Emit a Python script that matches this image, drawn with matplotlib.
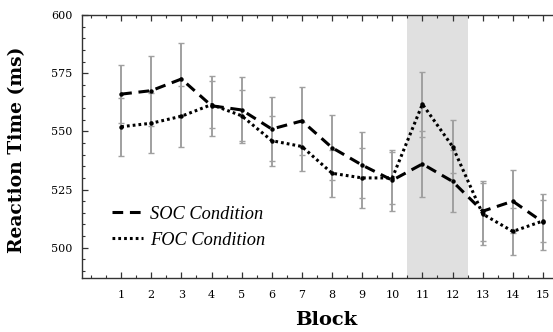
import matplotlib
matplotlib.use("Agg")
import matplotlib.pyplot as plt
from matplotlib.lines import Line2D
from matplotlib.ticker import MultipleLocator, FixedLocator

blocks = list(range(1, 16))
soc_rt = [566.0, 567.5, 572.5, 561.0, 559.2, 551.0, 554.5, 543.0, 535.5, 529.0, 536.0, 528.5, 515.7, 520.0, 511.0]
foc_rt = [552.0, 553.5, 556.5, 561.5, 556.7, 546.0, 543.5, 532.0, 530.0, 530.0, 561.7, 543.5, 514.5, 507.0, 511.5]
soc_err = [12.5, 15.0, 15.3, 13.0, 14.0, 13.7, 14.7, 14.0, 14.3, 13.0, 14.2, 13.3, 13.0, 13.6, 12.0]
foc_err = [12.5, 13.0, 13.2, 10.0, 11.0, 10.7, 10.7, 10.0, 13.0, 11.0, 14.0, 11.5, 13.2, 10.0, 9.0]
shade_span = (10.5, 12.5)
right_ticks = [501.2, 515.3, 529.2, 543.5, 557.8, 571.8, 586.0]
xlabels = [str(b) for b in blocks]

fig = plt.figure(figsize=(5.53, 3.32), dpi=100)
ax = fig.add_axes([82/553, 54/332, 476/553, 263/332])

ax.axvspan(*shade_span, color="#e0e0e0", lw=0, zorder=0)

ecol = "#a0a0a0"
ax.errorbar(blocks, soc_rt, yerr=soc_err, fmt="none", ecolor=ecol, elinewidth=1.4, capsize=2.5, capthick=1.0, zorder=1)
ax.errorbar(blocks, foc_rt, yerr=foc_err, fmt="none", ecolor=ecol, elinewidth=1.4, capsize=2.5, capthick=1.0, zorder=1)

dash = (0, (3.5, 2.2))
dot = (0, (0.9, 1.0))
ax.plot(blocks, soc_rt, color="black", lw=2.2, linestyle=dash, marker="o", ms=2.2, zorder=3)
ax.plot(blocks, foc_rt, color="black", lw=2.2, linestyle=dot, marker="o", ms=2.2, zorder=3)

ax.set_xlim(-0.3, 15.5)
ax.set_ylim(487, 600)

ax.xaxis.set_major_locator(FixedLocator(blocks))
ax.set_xticklabels(xlabels)
ax.xaxis.set_minor_locator(FixedLocator([i * 0.5 for i in range(0, 31)]))
ax.yaxis.set_major_locator(MultipleLocator(25))
ax.yaxis.set_minor_locator(MultipleLocator(5))

for s in ax.spines.values():
    s.set_linewidth(1.0)
    s.set_color("#333333")

ax.tick_params(which="both", direction="in", top=True, right=False, colors="#333333",
               labelcolor="black", labelsize=8)
ax.tick_params(which="major", length=4, width=0.9)
ax.tick_params(which="minor", length=2.5, width=0.8)
ax.tick_params(axis="x", which="major", pad=9)
ax.tick_params(axis="y", which="major", pad=7)
for lbl in ax.get_xticklabels() + ax.get_yticklabels():
    lbl.set_family("DejaVu Serif")

sec = ax.secondary_yaxis("right")
sec.yaxis.set_major_locator(FixedLocator(right_ticks))
sec.tick_params(direction="in", length=3, labelright=False)

ax.set_xlabel("Block", fontsize=14, fontweight="bold", family="DejaVu Serif")
ax.set_ylabel("Reaction Time (ms)", fontsize=13.5, fontweight="bold", family="DejaVu Serif")
ax.xaxis.set_label_coords((326 - 82) / 476, -0.125)
ax.yaxis.set_label_coords(-(82 - 26) / 476, 0.487)

handles = [Line2D([], [], color="black", lw=2.2, linestyle=dash),
           Line2D([], [], color="black", lw=2.2, linestyle=dot)]
leg = ax.legend(handles, ["SOC Condition", "FOC Condition"], loc="upper left",
                bbox_to_anchor=(30 / 476, 0.275), frameon=False, borderpad=0, borderaxespad=0,
                handlelength=1.7, handletextpad=0.4, labelspacing=0.5,
                prop={"family": "Liberation Serif", "style": "italic", "size": 13.2})

fig.savefig("out.png", dpi=100)
